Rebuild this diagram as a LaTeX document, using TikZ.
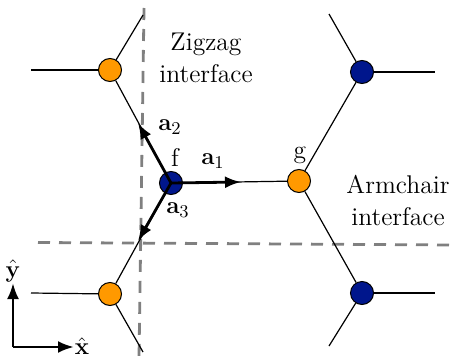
\documentclass[tikz,border=0pt]{standalone}
\usetikzlibrary{arrows.meta}
\definecolor{orng}{RGB}{255,153,0}
\definecolor{navyb}{RGB}{0,22,140}
\definecolor{dashgray}{RGB}{128,128,128}
\begin{document}
\begin{tikzpicture}[x=0.5pt,y=-0.5pt,
  bond/.style={line width=0.6pt},
  site/.style={circle,draw=black,line width=0.5pt,minimum size=11.5pt,inner sep=0pt},
  asite/.style={site,fill=orng},
  bsite/.style={site,fill=navyb},
  vec/.style={line width=1.4pt,-{Latex[length=8pt,width=6pt]}},
  iface/.style={dashgray,line width=1.4pt,dash pattern=on 6pt off 4.5pt},
  lbl/.style={font=\fontsize{12.8}{16}\selectfont,inner sep=0pt},
]
\useasboundingbox (0,0) rectangle (454,358);
% interfaces
\coordinate (vt) at (144,8);
\coordinate (vb) at (139,358);
\coordinate (hl) at (38,242.5);
\coordinate (hr) at (454,245);
\draw[iface] (vt) -- (vb);
\draw[iface] (hl) -- (hr);
% sites
\node[bsite] (f) at (171,183) {};
\node[asite] (g) at (299,181) {};
\node[asite] (tl) at (110,70) {};
\node[asite] (bl) at (110,294) {};
\node[bsite] (tr) at (362,72) {};
\node[bsite] (br) at (362,293) {};
% stub ends
\coordinate (tlw) at (31,70);
\coordinate (tln) at (143,15);
\coordinate (blw) at (31,293);
\coordinate (bls) at (143,352);
\coordinate (trn) at (329,14);
\coordinate (tre) at (435,72);
\coordinate (bre) at (435,293);
\coordinate (brs) at (329,346);
% bonds
\draw[bond] (f) -- (g);
\draw[bond] (f) -- (tl);
\draw[bond] (f) -- (bl);
\draw[bond] (g) -- (tr);
\draw[bond] (g) -- (br);
\draw[bond] (tl) -- (tlw);
\draw[bond] (tl) -- (tln);
\draw[bond] (bl) -- (blw);
\draw[bond] (bl) -- (bls);
\draw[bond] (tr) -- (trn);
\draw[bond] (tr) -- (tre);
\draw[bond] (br) -- (bre);
\draw[bond] (br) -- (brs);
% lattice vectors
\coordinate (a1t) at (241,182);
\coordinate (a2t) at (138,123);
\coordinate (a3t) at (138,241);
\draw[vec] (f.center) -- (a1t);
\draw[vec] (f.center) -- (a2t);
\draw[vec] (f.center) -- (a3t);
% labels
\node[lbl] (la1) at (213,161) {$\mathbf{a}_1$};
\node[lbl] (la2) at (170,127) {$\mathbf{a}_2$};
\node[lbl] (la3) at (178,210) {$\mathbf{a}_3$};
\node[lbl] (lf) at (175,157) {f};
\node[lbl] (lg) at (300,155) {g};
\node[lbl,align=center] (zz) at (206,58) {Zigzag\\interface};
\node[lbl,align=center] (ac) at (398,200) {Armchair\\interface};
% axes
\coordinate (o) at (13,347);
\coordinate (yt) at (13,283);
\coordinate (xt) at (74,347);
\draw[vec] (o) -- (yt);
\draw[vec] (o) -- (xt);
\node[lbl] (ly) at (13,271) {$\hat{\mathbf{y}}$};
\node[lbl] (lx) at (82,346) {$\hat{\mathbf{x}}$};
\end{tikzpicture}
\end{document}
